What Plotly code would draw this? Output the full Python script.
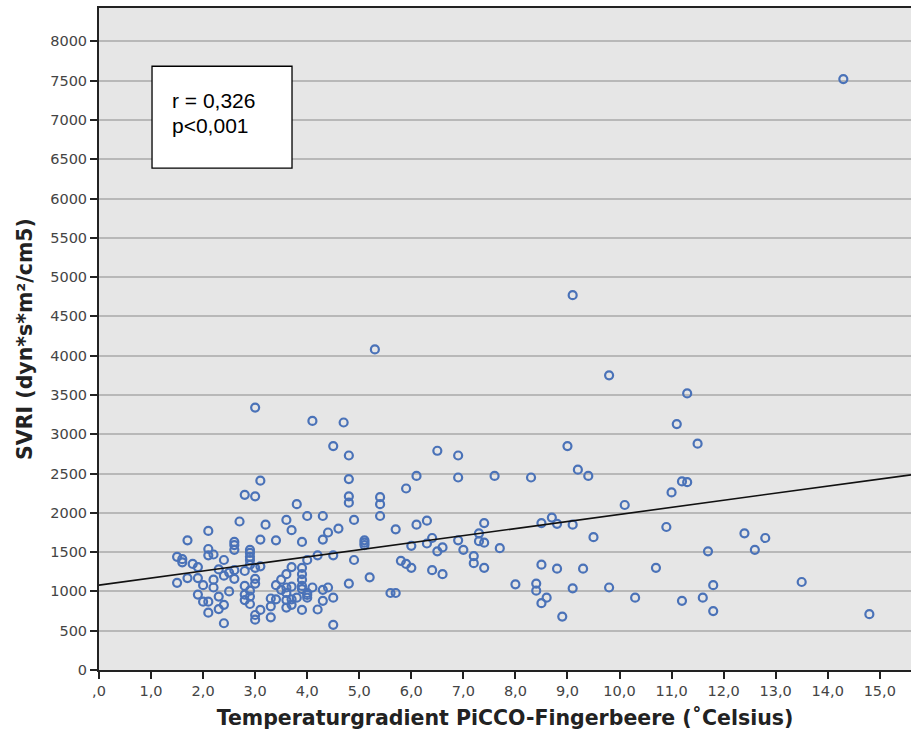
import plotly.graph_objects as go

# Data
temp_gradient = [
    14.3, 9.1, 5.3, 9.8, 11.3, 3.0, 4.1, 4.7, 11.1, 11.5, 4.5, 9.0, 6.5, 6.9, 4.8,
    9.2, 9.4, 6.1, 7.6, 8.3, 6.9, 4.8, 3.1, 11.2, 11.3, 5.9, 11.0, 2.8, 3.0, 4.8,
    5.4, 4.8, 5.4, 3.8, 10.1, 4.0, 4.3, 5.4, 8.7, 2.7, 3.6, 4.9, 6.3, 7.4, 8.5,
    8.8, 9.1, 3.2, 6.1, 10.9, 4.6, 5.7, 2.1, 3.7, 4.4, 12.4, 7.3, 9.5, 12.8, 6.4,
    1.7, 3.1, 4.3, 5.1, 3.4, 6.9, 7.3, 3.9, 2.6, 5.1, 7.4, 6.3, 2.6, 5.1, 6.0,
    6.6, 7.7, 2.1, 2.9, 2.6, 7.0, 12.6, 11.7, 6.5, 2.9, 2.1, 2.2, 4.2, 4.5, 7.2,
    1.5, 2.9, 1.6, 2.4, 2.9, 4.0, 4.9, 5.8, 1.6, 7.2, 1.8, 5.9, 8.5, 2.9, 1.9,
    3.1, 3.7, 6.0, 7.4, 10.7, 3.0, 3.9, 8.8, 9.3, 2.3, 2.6, 2.8, 6.4, 2.5, 3.6,
    3.9, 6.6, 2.4, 5.2, 1.7, 1.9, 2.6, 3.0, 2.2, 3.5, 3.9, 13.5, 1.5, 3.0, 4.8,
    8.4, 8.0, 2.0, 3.4, 11.8, 2.8, 3.9, 3.7, 2.2, 3.6, 4.1, 9.8, 4.4, 9.1, 3.9,
    2.9, 3.5, 4.3, 8.4, 2.5, 3.6, 5.6, 5.7, 4.0, 1.9, 2.8, 4.0, 2.3, 2.9, 4.0,
    3.8, 4.5, 8.6, 10.3, 11.6, 3.3, 3.4, 3.7, 2.8, 3.6, 4.3, 11.2, 2.0, 2.1, 8.5,
    2.9, 2.4, 3.7, 3.3, 3.6, 2.3, 4.2, 3.9, 3.1, 11.8, 2.1, 14.8, 3.0, 8.9, 3.3,
    3.0, 2.4, 4.5,
]
svri = [
    7520, 4770, 4080, 3750, 3520, 3340, 3170, 3150, 3130, 2880, 2850, 2850, 2790, 2730, 2730,
    2550, 2470, 2470, 2470, 2450, 2450, 2430, 2410, 2400, 2390, 2310, 2260, 2230, 2210, 2210,
    2200, 2130, 2110, 2110, 2100, 1960, 1960, 1960, 1940, 1890, 1910, 1910, 1900, 1870, 1870,
    1860, 1850, 1850, 1850, 1820, 1800, 1790, 1770, 1780, 1750, 1740, 1740, 1690, 1680, 1680,
    1650, 1660, 1660, 1650, 1650, 1650, 1640, 1630, 1630, 1620, 1620, 1610, 1590, 1590, 1580,
    1560, 1550, 1540, 1530, 1530, 1530, 1530, 1510, 1510, 1490, 1460, 1470, 1460, 1460, 1450,
    1440, 1440, 1410, 1400, 1400, 1400, 1400, 1390, 1370, 1360, 1350, 1350, 1340, 1340, 1310,
    1320, 1310, 1300, 1300, 1300, 1300, 1300, 1290, 1290, 1280, 1270, 1260, 1270, 1240, 1220,
    1220, 1220, 1200, 1180, 1170, 1170, 1160, 1160, 1150, 1150, 1150, 1120, 1110, 1100, 1100,
    1100, 1090, 1080, 1080, 1080, 1070, 1070, 1060, 1050, 1050, 1050, 1050, 1050, 1040, 1030,
    1010, 1020, 1020, 1010, 1000, 980, 980, 980, 980, 960, 960, 955, 935, 935, 920,
    920, 920, 920, 920, 920, 910, 900, 900, 890, 890, 880, 880, 870, 870, 850,
    840, 830, 830, 810, 795, 775, 770, 765, 765, 750, 730, 710, 700, 680, 670,
    640, 595, 575,
]

# Regression line
fit_intercept = 1080
fit_slope = 90
x_range = [0, 15.6]

x_tickvals = list(range(0, 16))
x_ticktext = [",0"] + [f"{v},0" for v in range(1, 16)]
y_tickvals = list(range(0, 8001, 500))

stat_lines = ["r = 0,326", "p&lt;0,001"]

fig = go.Figure()

fig.add_trace(go.Scatter(
    x=temp_gradient, y=svri, mode="markers",
    marker=dict(symbol="circle-open", size=8, color="#4a72b8",
                line=dict(width=2.2, color="#4a72b8")),
    hoverinfo="x+y", showlegend=False,
))

fig.add_trace(go.Scatter(
    x=x_range,
    y=[fit_intercept + fit_slope * v for v in x_range],
    mode="lines", line=dict(color="#111111", width=1.6),
    hoverinfo="skip", showlegend=False,
))

fig.add_shape(type="rect", xref="paper", yref="paper",
              x0=0.0653, x1=0.2377, y0=0.758, y1=0.912,
              line=dict(color="#000000", width=1.3), fillcolor="#ffffff", layer="above")

for txt, ypos in zip(stat_lines, [0.861, 0.822]):
    fig.add_annotation(xref="paper", yref="paper", x=0.0875, y=ypos,
                       xanchor="left", yanchor="middle", align="left",
                       text=txt, showarrow=False,
                       font=dict(family="Liberation Sans, Arial, sans-serif", size=21, color="#000000"))

fig.update_layout(
    width=911, height=741,
    margin=dict(l=99, r=0, t=8, b=71),
    paper_bgcolor="#ffffff",
    plot_bgcolor="#e6e6e6",
    font=dict(family="DejaVu Sans, sans-serif", color="#444444"),
    xaxis=dict(
        range=x_range, tickvals=x_tickvals, ticktext=x_ticktext,
        showgrid=False, zeroline=False,
        showline=True, linecolor="#222222", linewidth=2, mirror=True,
        ticks="outside", ticklen=7, tickwidth=2, tickcolor="#222222",
        tickfont=dict(size=14.5, color="#444444"),
        title=dict(text="<b>Temperaturgradient PiCCO-Fingerbeere (˚Celsius)</b>",
                   font=dict(size=20.5, color="#222222"), standoff=12),
    ),
    yaxis=dict(
        range=[0, 8425], tickvals=y_tickvals,
        showgrid=True, gridcolor="#b8b8b8", gridwidth=1.6, zeroline=False,
        showline=True, linecolor="#222222", linewidth=2,
        ticks="outside", ticklen=7, tickwidth=2, tickcolor="#222222",
        tickfont=dict(size=14.5, color="#444444"),
        title=dict(text="<b>SVRI (dyn*s*m²/cm5)</b>",
                   font=dict(size=20.5, color="#222222"), standoff=12),
    ),
)

fig.write_html("out.html")
